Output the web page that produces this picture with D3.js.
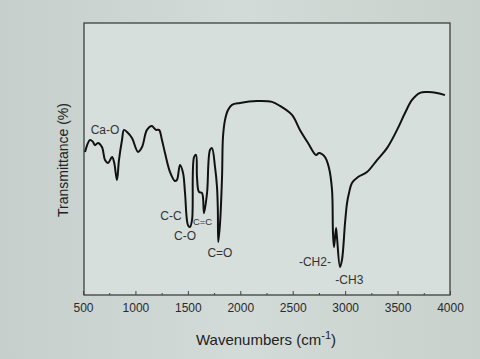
<!DOCTYPE html>
<html><head><meta charset="utf-8">
<script src="https://cdn.jsdelivr.net/npm/d3@7"></script>
<style>
html,body{margin:0;padding:0;background:#cdd5d1;}
svg{display:block;}
</style></head>
<body>
<script>
// Spectrum data (wavenumber cm-1, relative transmittance)
const wavenumbers = [519,567,595,614,643,681,710,738,777,796,824,843,872,891,920,967,1025,1063,1110,1158,1177,1196,1225,1253,1282,1330,1377,1396,1425,1454,1473,1501,1520,1540,1559,1578,1587,1606,1635,1654,1683,1711,1730,1759,1778,1786,1790,1807,1826,1835,1854,1883,1921,1997,2159,2302,2379,2493,2569,2646,2722,2751,2808,2846,2875,2884,2894,2913,2922,2951,2970,2999,3018,3037,3065,3123,3208,3304,3399,3495,3571,3638,3714,3781,3876,3952];
const transmittance = [52.6,57.0,56.3,55.1,55.9,54.4,49.6,48.5,50.7,48.9,42.3,49.6,57.0,60.7,59.9,57.7,52.6,54.4,60.7,62.1,61.4,60.7,60.7,57.0,52.2,45.2,41.9,42.3,47.8,44.9,37.5,25.7,25.0,27.6,50.7,51.5,43.4,37.9,37.5,30.1,37.5,53.3,54.0,47.1,39.7,31.3,19.5,26.5,43.4,58.1,64.3,68.0,69.9,70.6,71.3,71.0,69.5,66.2,60.7,55.9,51.5,52.2,50.7,46.7,38.6,22.8,17.6,24.6,21.3,10.3,12.9,26.5,33.8,37.5,41.2,43.4,45.2,49.6,54.0,60.7,66.9,71.7,74.3,74.6,74.3,73.5];
const xTicks = [500,1000,1500,2000,2500,3000,3500,4000];
const xMinorTicks = [750,1250,1750,2250,2750,3250,3750];
const labelText = ["Ca-O","C-C","C=C","C-O","C=O","-CH2-","-CH3"];
const labelW = [710,1339,1640,1473,1806,2712,3040];
const labelT = [60.3,28.7,26.8,21.3,15.1,11.8,5.1];
const labelSize = [12,12,9.5,12,12,12,12];

const W=480,H=359;
const L=84,R=450,T=23,B=295;
const svg=d3.select("body").append("svg").attr("width",W).attr("height",H);

const grad=svg.append("defs").append("linearGradient").attr("id","bg").attr("x1","0").attr("x2","1");
grad.append("stop").attr("offset","0").attr("stop-color","#c6cfcb");
grad.append("stop").attr("offset","0.5").attr("stop-color","#d3dbd8");
grad.append("stop").attr("offset","1").attr("stop-color","#c9d1cd");
svg.append("rect").attr("width",W).attr("height",H).attr("fill","url(#bg)");
svg.append("rect").attr("x",L).attr("y",T).attr("width",R-L).attr("height",B-T).attr("fill","#d7dfdc");

const x=d3.scaleLinear().domain([500,4000]).range([L-1,R]);
const y=d3.scaleLinear().domain([0,100]).range([B,T]);

// frame
svg.append("rect").attr("x",L).attr("y",T).attr("width",R-L).attr("height",B-T)
  .attr("fill","none").attr("stroke","#333").attr("stroke-width",1.2);

// x axis
const ax=d3.axisBottom(x).tickValues(xTicks).tickSize(-4).tickPadding(8).tickFormat(d3.format("d"));
const gx=svg.append("g").attr("transform",`translate(0,${B})`).call(ax);
gx.select(".domain").remove();
gx.selectAll("line").attr("stroke","#444");
gx.selectAll("text").attr("font-family","Liberation Sans, Arial, sans-serif").attr("font-size",12).attr("fill","#2a2a2a");
const axm=d3.axisBottom(x).tickValues(xMinorTicks).tickSize(-2).tickFormat("");
const gm=svg.append("g").attr("transform",`translate(0,${B})`).call(axm);
gm.select(".domain").remove();
gm.selectAll("line").attr("stroke","#444");

// axis titles
const xt=svg.append("text").attr("x",266).attr("y",345).attr("text-anchor","middle")
  .attr("font-family","Liberation Sans, Arial, sans-serif").attr("font-size",15).attr("fill","#222");
xt.append("tspan").text("Wavenumbers (cm");
xt.append("tspan").attr("dy",-6).attr("font-size",11).text("-1");
xt.append("tspan").attr("dy",6).text(")");

svg.append("text").attr("transform","translate(68,160) rotate(-90)").attr("text-anchor","middle")
  .attr("font-family","Liberation Sans, Arial, sans-serif").attr("font-size",14).attr("fill","#222")
  .text("Transmittance (%)");

// spectrum
const pts=wavenumbers.map((w,i)=>[w,transmittance[i]]);
svg.append("path").datum(pts)
  .attr("d",d3.line().x(d=>x(d[0])).y(d=>y(d[1])).curve(d3.curveCatmullRom.alpha(0.5)))
  .attr("fill","none").attr("stroke","#111").attr("stroke-width",2).attr("stroke-linejoin","round");

// annotations
svg.selectAll("text.lab").data(labelText).enter().append("text").attr("class","lab")
  .attr("x",(d,i)=>x(labelW[i])).attr("y",(d,i)=>y(labelT[i]))
  .attr("text-anchor","middle").attr("dominant-baseline","middle")
  .attr("font-family","Liberation Sans, Arial, sans-serif").attr("font-size",(d,i)=>labelSize[i])
  .attr("fill","#333").text(d=>d);
</script>
</body></html>
